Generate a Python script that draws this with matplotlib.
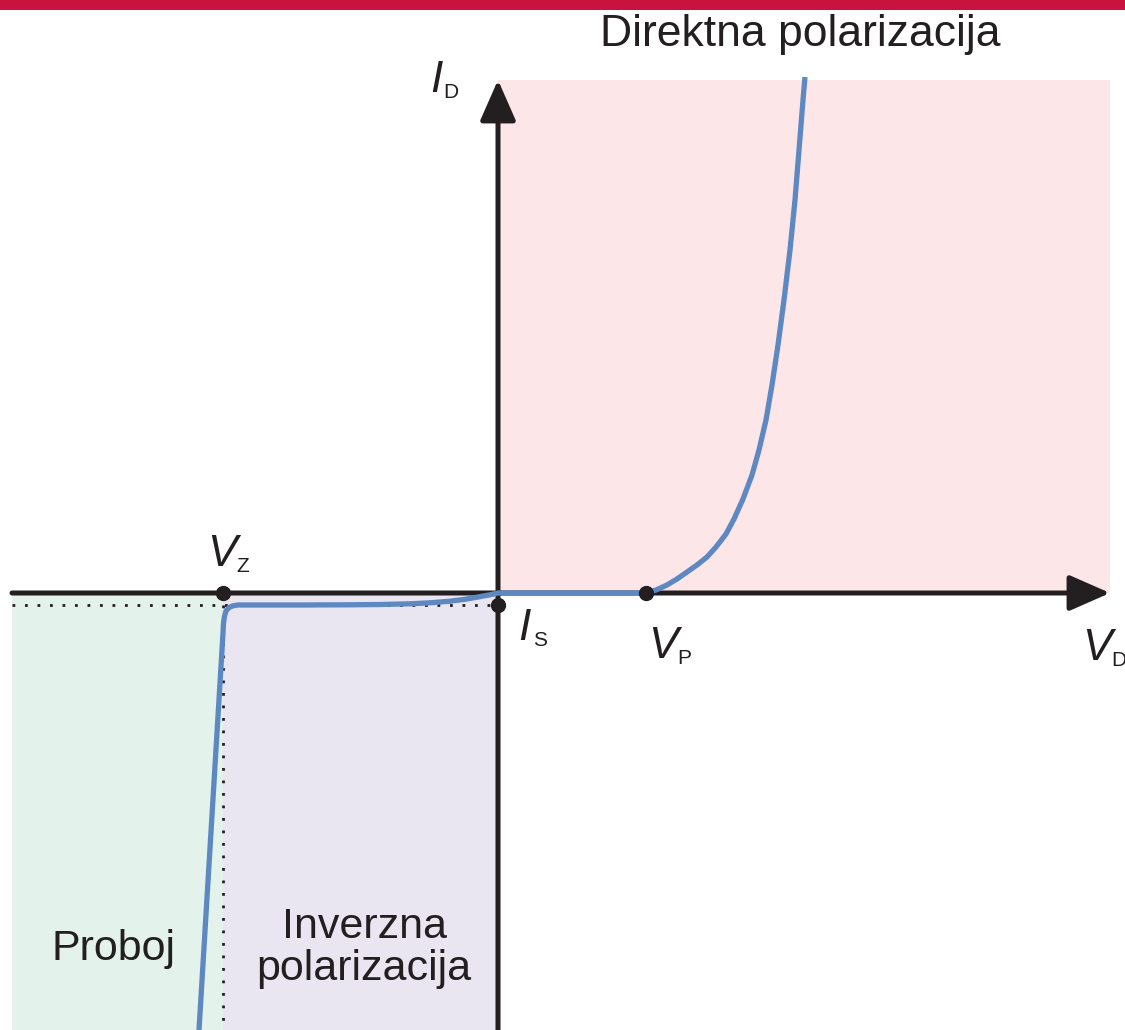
import matplotlib
matplotlib.use("Agg")
import matplotlib.pyplot as plt
from matplotlib.patches import Rectangle

# key points of the diode characteristic (arbitrary units)
V_Z = -2.75          # breakdown voltage
V_P = 1.48           # threshold voltage
I_S = -0.12          # saturation current
V_MIN, V_MAX = -4.86, 6.12
I_MIN, I_MAX = -4.37, 5.13

# reverse branch: breakdown -> saturation -> origin
rev_v = [-2.99, -2.76, -2.75, -2.745, -2.735, -2.72, -2.69, -2.65, -2.60,
         -1.98, -1.48, -1.18, -0.88, -0.68, -0.48, -0.33, -0.20, -0.08, 0.0]
rev_i = [-4.37, -0.57, -0.40, -0.30, -0.23, -0.18, -0.145, -0.128, -0.12,
         -0.12, -0.118, -0.115, -0.108, -0.098, -0.082, -0.063, -0.040, -0.018, 0.0]

# forward branch: origin -> V_P -> steep rise
fwd_v = [0.0, 1.48, 1.58, 1.69, 1.79, 1.89, 1.99, 2.09, 2.18, 2.28, 2.36, 2.45,
         2.54, 2.61, 2.68, 2.74, 2.80, 2.86, 2.92, 2.97, 3.01, 3.05, 3.07]
fwd_i = [0.0, 0.0, 0.03, 0.08, 0.14, 0.21, 0.28, 0.36, 0.46, 0.59, 0.74, 0.94,
         1.18, 1.43, 1.73, 2.08, 2.48, 2.93, 3.43, 3.93, 4.43, 4.93, 5.16]

DARK = '#231F20'
BLUE = '#5E88C2'
FONT = 'Liberation Sans'

fig = plt.figure(figsize=(11.25, 10.30), dpi=100)
ax = fig.add_axes([0, 0, 1, 1])
ax.set_xlim(-4.98, 6.27)
ax.set_ylim(-4.37, 5.93)
ax.axis('off')

# shaded regions
ax.add_patch(Rectangle((0, 0), V_MAX, I_MAX, facecolor='#FCE6E8', edgecolor='none', zorder=0))
ax.add_patch(Rectangle((V_MIN, I_MIN), V_Z - V_MIN, -I_MIN, facecolor='#E3F3EC', edgecolor='none', zorder=0))
ax.add_patch(Rectangle((V_Z, I_MIN), -V_Z, -I_MIN, facecolor='#EAE6F1', edgecolor='none', zorder=0))

# dotted guides
ax.plot([V_MIN, 0], [I_S, I_S], color=DARK, lw=2, ls=(0, (1, 3.5)), zorder=1)
ax.plot([V_Z, V_Z], [I_S, I_MIN], color=DARK, lw=2, ls=(0, (1, 3.5)), zorder=1)

# axes with arrows
arrow = dict(arrowstyle='-|>,head_length=1.25,head_width=0.55', lw=3.6, color=DARK,
             shrinkA=0, shrinkB=0, mutation_scale=20)
ax.annotate('', xy=(V_MAX, 0), xytext=(V_MIN, 0), arrowprops=arrow, zorder=2)
ax.annotate('', xy=(0, I_MAX), xytext=(0, I_MIN), arrowprops=arrow, zorder=2)

# characteristic
ax.plot(rev_v + fwd_v[1:], rev_i + fwd_i[1:], color=BLUE, lw=3.8,
        solid_joinstyle='round', solid_capstyle='butt', zorder=3)

# marker dots
ax.plot([V_Z, V_P, 0], [0, 0, I_S], 'o', color=DARK, ms=10, zorder=4)

# top bar
fig.add_artist(Rectangle((0, 1 - 10 / 1030), 1, 10 / 1030, transform=fig.transFigure,
                         facecolor='#C8133E', edgecolor='none'))

# region labels
txt = dict(color=DARK, family=FONT, ha='center', va='baseline')
ax.text(3.02, 5.47, 'Direktna polarizacija', fontsize=32, **txt)
ax.text(-3.85, -3.67, 'Proboj', fontsize=31, **txt)
ax.text(-1.34, -3.45, 'Inverzna', fontsize=31, **txt)
ax.text(-1.34, -3.87, 'polarizacija', fontsize=31, **txt)


def symbol(x, y, main, sub, dx):
    ax.text(x, y, main, color=DARK, family=FONT, style='italic', fontsize=32, va='baseline')
    ax.annotate(sub, xy=(x, y), xytext=(dx, -4.5), textcoords='offset points',
                color=DARK, family=FONT, fontsize=15, va='baseline')


symbol(-0.68, 5.01, 'I', 'D', 9.5)
symbol(-2.91, 0.27, 'V', 'Z', 21)
symbol(0.20, -0.47, 'I', 'S', 10.5)
symbol(1.50, -0.65, 'V', 'P', 21)
symbol(5.84, -0.67, 'V', 'D', 21)

fig.savefig('out.png', dpi=100)
